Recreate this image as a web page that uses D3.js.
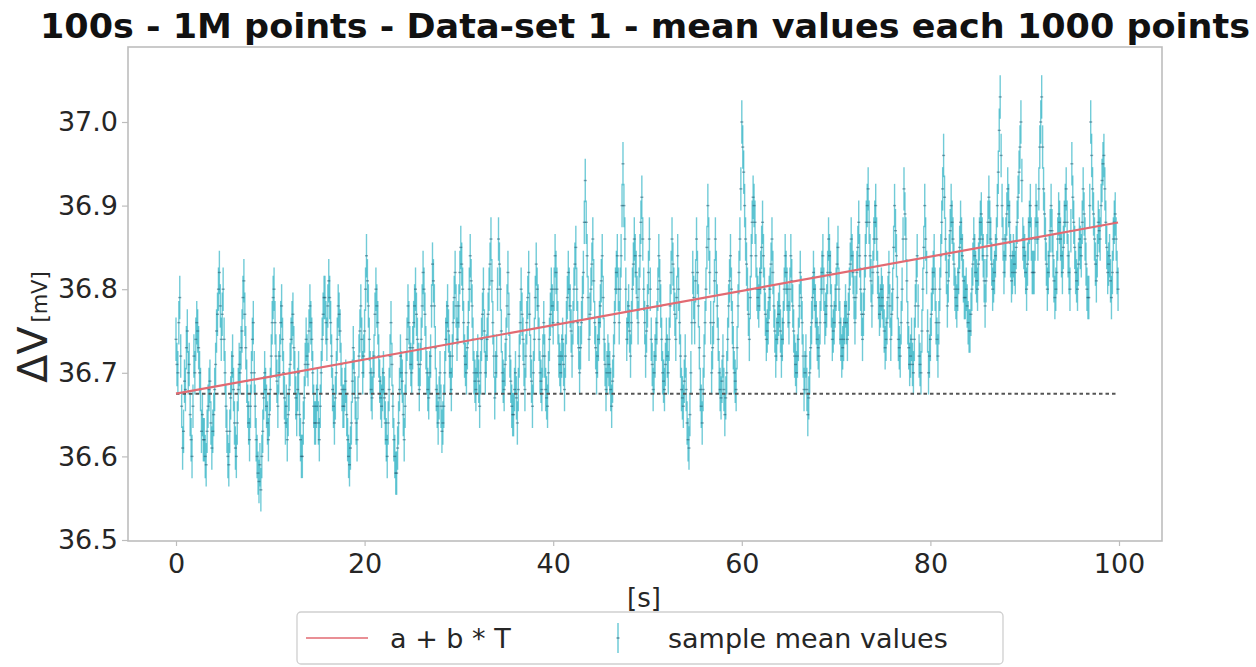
<!DOCTYPE html>
<html>
<head>
<meta charset="utf-8">
<script src="https://cdn.jsdelivr.net/npm/d3@7"></script>
<style>
  body { margin: 0; background: #fff; }
  svg { display: block; }
  text { font-family: "DejaVu Sans", "Noto Sans", sans-serif; fill: #262626; }
</style>
</head>
<body>
<svg id="chart" width="1256" height="667"></svg>
<script>
// ---- data -------------------------------------------------------------
const titleText = "100s - 1M points - Data-set 1 - mean values each 1000 points";
const timeStep = 0.1;          // s between sample means (1000 points each)
const meanError = 0.026;       // mV, half length of each error bar
const fitA = 36.675;           // mV, intercept a
const fitB = 0.00205;          // mV/s, slope b
const xTicks = [0, 20, 40, 60, 80, 100];
const yTicks = [36.5, 36.6, 36.7, 36.8, 36.9, 37.0];
const legendLabels = ["a + b * T", "sample mean values"];

// sample mean values [mV], one row per second
const sampleMeans = [
  36.74, 36.71, 36.70, 36.76, 36.79, 36.72, 36.66, 36.61, 36.63, 36.69,
  36.68, 36.73, 36.75, 36.70, 36.71, 36.65, 36.62, 36.60, 36.66, 36.72,
  36.70, 36.74, 36.76, 36.75, 36.73, 36.70, 36.68, 36.63, 36.65, 36.62,
  36.62, 36.60, 36.59, 36.63, 36.66, 36.68, 36.69, 36.64, 36.61, 36.63,
  36.65, 36.68, 36.71, 36.75, 36.77, 36.80, 36.82, 36.78, 36.74, 36.77,
  36.80, 36.74, 36.70, 36.66, 36.63, 36.60, 36.59, 36.63, 36.67, 36.70,
  36.72, 36.68, 36.64, 36.61, 36.60, 36.64, 36.68, 36.71, 36.70, 36.73,
  36.75, 36.79, 36.81, 36.77, 36.73, 36.69, 36.66, 36.64, 36.62, 36.66,
  36.70, 36.74, 36.76, 36.70, 36.66, 36.62, 36.60, 36.58, 36.57, 36.59,
  36.56, 36.60, 36.63, 36.67, 36.70, 36.68, 36.66, 36.64, 36.62, 36.65,
  36.68, 36.72, 36.76, 36.79, 36.80, 36.76, 36.72, 36.69, 36.66, 36.70,
  36.72, 36.76, 36.78, 36.74, 36.70, 36.67, 36.64, 36.66, 36.62, 36.65,
  36.68, 36.71, 36.74, 36.76, 36.77, 36.73, 36.70, 36.67, 36.65, 36.68,
  36.70, 36.65, 36.62, 36.60, 36.60, 36.64, 36.67, 36.71, 36.74, 36.72,
  36.71, 36.75, 36.78, 36.76, 36.74, 36.70, 36.66, 36.64, 36.64, 36.66,
  36.68, 36.64, 36.62, 36.66, 36.70, 36.74, 36.77, 36.79, 36.79, 36.76,
  36.74, 36.78, 36.81, 36.79, 36.76, 36.72, 36.68, 36.66, 36.64, 36.67,
  36.70, 36.74, 36.78, 36.77, 36.75, 36.71, 36.68, 36.66, 36.66, 36.68,
  36.69, 36.65, 36.62, 36.60, 36.59, 36.61, 36.64, 36.69, 36.73, 36.70,
  36.67, 36.64, 36.62, 36.67, 36.72, 36.75, 36.78, 36.74, 36.70, 36.72,
  36.75, 36.80, 36.84, 36.81, 36.78, 36.74, 36.70, 36.68, 36.67, 36.70,
  36.72, 36.77, 36.80, 36.78, 36.76, 36.72, 36.69, 36.67, 36.66, 36.68,
  36.70, 36.67, 36.64, 36.62, 36.60, 36.64, 36.68, 36.72, 36.76, 36.71,
  36.66, 36.62, 36.60, 36.58, 36.58, 36.61, 36.64, 36.68, 36.72, 36.70,
  36.69, 36.65, 36.62, 36.66, 36.70, 36.74, 36.78, 36.76, 36.73, 36.71,
  36.70, 36.73, 36.76, 36.78, 36.80, 36.77, 36.74, 36.71, 36.68, 36.71,
  36.74, 36.78, 36.82, 36.80, 36.77, 36.73, 36.70, 36.68, 36.67, 36.70,
  36.72, 36.78, 36.83, 36.81, 36.78, 36.73, 36.68, 36.66, 36.64, 36.67,
  36.70, 36.66, 36.63, 36.64, 36.66, 36.70, 36.74, 36.76, 36.78, 36.75,
  36.72, 36.70, 36.68, 36.72, 36.76, 36.79, 36.82, 36.78, 36.74, 36.76,
  36.78, 36.82, 36.85, 36.83, 36.80, 36.76, 36.72, 36.71, 36.70, 36.73,
  36.76, 36.80, 36.84, 36.81, 36.78, 36.74, 36.70, 36.69, 36.68, 36.70,
  36.72, 36.69, 36.66, 36.70, 36.74, 36.77, 36.80, 36.75, 36.70, 36.72,
  36.74, 36.77, 36.80, 36.83, 36.86, 36.81, 36.76, 36.72, 36.67, 36.70,
  36.72, 36.80, 36.86, 36.83, 36.80, 36.75, 36.70, 36.69, 36.68, 36.71,
  36.74, 36.78, 36.82, 36.77, 36.72, 36.69, 36.66, 36.65, 36.65, 36.68,
  36.70, 36.67, 36.64, 36.68, 36.72, 36.76, 36.80, 36.77, 36.74, 36.71,
  36.68, 36.72, 36.76, 36.79, 36.82, 36.77, 36.72, 36.69, 36.66, 36.70,
  36.74, 36.79, 36.83, 36.80, 36.78, 36.74, 36.70, 36.69, 36.68, 36.72,
  36.76, 36.72, 36.68, 36.67, 36.66, 36.70, 36.74, 36.77, 36.80, 36.78,
  36.76, 36.80, 36.84, 36.82, 36.80, 36.76, 36.72, 36.71, 36.70, 36.72,
  36.74, 36.71, 36.68, 36.72, 36.76, 36.79, 36.82, 36.80, 36.78, 36.75,
  36.72, 36.76, 36.80, 36.83, 36.85, 36.80, 36.76, 36.73, 36.70, 36.73,
  36.76, 36.79, 36.82, 36.88, 36.93, 36.88, 36.84, 36.79, 36.74, 36.77,
  36.80, 36.83, 36.86, 36.81, 36.76, 36.73, 36.70, 36.72, 36.74, 36.76,
  36.78, 36.81, 36.84, 36.79, 36.74, 36.71, 36.68, 36.70, 36.72, 36.71,
  36.70, 36.68, 36.66, 36.69, 36.72, 36.76, 36.80, 36.82, 36.84, 36.80,
  36.76, 36.80, 36.84, 36.90, 36.95, 36.90, 36.86, 36.80, 36.74, 36.76,
  36.78, 36.75, 36.72, 36.76, 36.80, 36.83, 36.86, 36.84, 36.82, 36.79,
  36.76, 36.80, 36.84, 36.88, 36.91, 36.86, 36.80, 36.76, 36.72, 36.75,
  36.78, 36.82, 36.86, 36.80, 36.74, 36.71, 36.68, 36.70, 36.72, 36.74,
  36.76, 36.80, 36.84, 36.81, 36.78, 36.74, 36.70, 36.69, 36.68, 36.71,
  36.74, 36.72, 36.70, 36.74, 36.78, 36.82, 36.86, 36.83, 36.80, 36.77,
  36.74, 36.79, 36.84, 36.80, 36.76, 36.72, 36.68, 36.67, 36.66, 36.69,
  36.72, 36.68, 36.64, 36.62, 36.61, 36.65, 36.70, 36.76, 36.82, 36.79,
  36.76, 36.81, 36.86, 36.82, 36.78, 36.73, 36.68, 36.66, 36.64, 36.68,
  36.72, 36.76, 36.80, 36.85, 36.90, 36.86, 36.82, 36.76, 36.70, 36.73,
  36.76, 36.81, 36.86, 36.82, 36.78, 36.74, 36.70, 36.68, 36.67, 36.69,
  36.72, 36.68, 36.65, 36.67, 36.70, 36.74, 36.78, 36.81, 36.84, 36.80,
  36.76, 36.73, 36.70, 36.69, 36.68, 36.73, 36.78, 36.82, 36.86, 36.92,
  37.00, 36.97, 36.94, 36.90, 36.86, 36.83, 36.80, 36.77, 36.74, 36.79,
  36.84, 36.88, 36.91, 36.90, 36.88, 36.84, 36.80, 36.79, 36.78, 36.80,
  36.82, 36.85, 36.88, 36.84, 36.80, 36.77, 36.74, 36.75, 36.76, 36.79,
  36.80, 36.83, 36.86, 36.82, 36.78, 36.75, 36.72, 36.74, 36.76, 36.77,
  36.78, 36.75, 36.72, 36.74, 36.76, 36.80, 36.84, 36.82, 36.80, 36.78,
  36.76, 36.80, 36.84, 36.81, 36.78, 36.75, 36.72, 36.71, 36.70, 36.72,
  36.74, 36.78, 36.82, 36.79, 36.76, 36.72, 36.68, 36.70, 36.72, 36.68,
  36.65, 36.67, 36.70, 36.73, 36.76, 36.79, 36.82, 36.80, 36.78, 36.76,
  36.74, 36.73, 36.72, 36.76, 36.80, 36.82, 36.84, 36.80, 36.76, 36.77,
  36.78, 36.82, 36.86, 36.84, 36.82, 36.78, 36.74, 36.75, 36.76, 36.78,
  36.80, 36.83, 36.85, 36.80, 36.76, 36.74, 36.72, 36.73, 36.74, 36.76,
  36.78, 36.76, 36.74, 36.77, 36.80, 36.83, 36.86, 36.84, 36.82, 36.79,
  36.76, 36.79, 36.82, 36.85, 36.88, 36.84, 36.80, 36.77, 36.74, 36.77,
  36.80, 36.84, 36.88, 36.90, 36.92, 36.88, 36.84, 36.81, 36.78, 36.82,
  36.86, 36.88, 36.90, 36.86, 36.82, 36.79, 36.77, 36.78, 36.80, 36.79,
  36.78, 36.75, 36.73, 36.74, 36.76, 36.79, 36.82, 36.78, 36.74, 36.77,
  36.80, 36.85, 36.90, 36.87, 36.84, 36.79, 36.74, 36.73, 36.72, 36.76,
  36.80, 36.86, 36.92, 36.89, 36.86, 36.81, 36.76, 36.73, 36.71, 36.72,
  36.74, 36.71, 36.70, 36.74, 36.78, 36.81, 36.84, 36.78, 36.72, 36.71,
  36.70, 36.75, 36.80, 36.85, 36.90, 36.86, 36.82, 36.75, 36.70, 36.72,
  36.74, 36.77, 36.80, 36.82, 36.84, 36.80, 36.76, 36.74, 36.72, 36.76,
  36.80, 36.84, 36.88, 36.92, 36.96, 36.91, 36.86, 36.82, 36.78, 36.81,
  36.84, 36.87, 36.90, 36.88, 36.86, 36.83, 36.80, 36.79, 36.78, 36.80,
  36.82, 36.85, 36.88, 36.86, 36.84, 36.81, 36.79, 36.79, 36.80, 36.78,
  36.76, 36.75, 36.75, 36.77, 36.80, 36.83, 36.86, 36.84, 36.82, 36.81,
  36.80, 36.83, 36.86, 36.88, 36.89, 36.86, 36.84, 36.81, 36.78, 36.81,
  36.84, 36.88, 36.91, 36.88, 36.86, 36.83, 36.80, 36.81, 36.82, 36.84,
  36.86, 36.90, 36.94, 36.99, 37.03, 36.96, 36.90, 36.86, 36.82, 36.84,
  36.86, 36.89, 36.92, 36.90, 36.88, 36.84, 36.81, 36.82, 36.84, 36.83,
  36.82, 36.85, 36.88, 36.91, 36.94, 36.97, 37.00, 36.93, 36.86, 36.85,
  36.84, 36.82, 36.80, 36.83, 36.86, 36.88, 36.90, 36.86, 36.82, 36.82,
  36.82, 36.86, 36.90, 36.88, 36.86, 36.92, 36.97, 37.00, 37.03, 36.97,
  36.92, 36.89, 36.86, 36.83, 36.80, 36.82, 36.84, 36.87, 36.90, 36.87,
  36.84, 36.81, 36.79, 36.80, 36.82, 36.86, 36.89, 36.88, 36.86, 36.84,
  36.82, 36.85, 36.88, 36.90, 36.92, 36.88, 36.84, 36.82, 36.80, 36.87,
  36.95, 36.91, 36.88, 36.85, 36.82, 36.81, 36.80, 36.83, 36.86, 36.85,
  36.84, 36.88, 36.92, 36.89, 36.86, 36.83, 36.80, 36.79, 36.79, 36.90,
  37.00, 36.96, 36.92, 36.89, 36.86, 36.83, 36.81, 36.84, 36.88, 36.87,
  36.86, 36.90, 36.93, 36.95, 36.96, 36.92, 36.88, 36.85, 36.82, 36.83,
  36.84, 36.81, 36.79, 36.82, 36.86, 36.88, 36.89, 36.86, 36.82, 36.80
];

// ---- layout -----------------------------------------------------------
const plot = { left: 128, right: 1162, top: 47, bottom: 541 };
const svg = d3.select("#chart");

const x = d3.scaleLinear().domain([0, 100]).range([176, 1119]);
const y = d3.scaleLinear().domain([36.5, 37.0]).range([540, 122]);

const points = sampleMeans.map((v, i) => ({ t: i * timeStep, v }));
const tEnd = d3.max(points, d => d.t);

// title
svg.append("text")
  .attr("x", (plot.left + plot.right) / 2)
  .attr("y", 38)
  .attr("text-anchor", "middle")
  .attr("font-size", 33)
  .attr("font-weight", "bold")
  .attr("textLength", 1210)
  .attr("lengthAdjust", "spacingAndGlyphs")
  .style("fill", "#111")
  .text(titleText);

// plot background
svg.append("rect")
  .attr("x", plot.left).attr("y", plot.top)
  .attr("width", plot.right - plot.left).attr("height", plot.bottom - plot.top)
  .attr("fill", "#fff");

svg.append("clipPath").attr("id", "plotClip")
  .append("rect")
  .attr("x", plot.left).attr("y", plot.top)
  .attr("width", plot.right - plot.left).attr("height", plot.bottom - plot.top);

const marks = svg.append("g").attr("clip-path", "url(#plotClip)");

// error bars of the sample means
marks.append("g")
  .selectAll("line")
  .data(points)
  .join("line")
  .attr("x1", d => x(d.t)).attr("x2", d => x(d.t))
  .attr("y1", d => y(d.v - meanError)).attr("y2", d => y(d.v + meanError))
  .attr("stroke", "#12a9bd")
  .attr("stroke-width", 1.4)
  .attr("stroke-opacity", 0.6);

// mean markers
marks.append("g")
  .selectAll("line")
  .data(points)
  .join("line")
  .attr("x1", d => x(d.t) - 1.5).attr("x2", d => x(d.t) + 1.5)
  .attr("y1", d => y(d.v)).attr("y2", d => y(d.v))
  .attr("stroke", "#275c72")
  .attr("stroke-width", 1.4)
  .attr("stroke-opacity", 0.55);

// constant level a
marks.append("line")
  .attr("x1", x(0)).attr("x2", x(tEnd))
  .attr("y1", y(fitA)).attr("y2", y(fitA))
  .attr("stroke", "#555")
  .attr("stroke-width", 2)
  .attr("stroke-dasharray", "3.5,3");

// linear fit a + b*T
const fitLine = d3.line().x(d => x(d)).y(d => y(fitA + fitB * d));
marks.append("path")
  .attr("d", fitLine([0, tEnd]))
  .attr("fill", "none")
  .attr("stroke", "#e26a72")
  .attr("stroke-width", 2.2);

// frame
svg.append("rect")
  .attr("x", plot.left).attr("y", plot.top)
  .attr("width", plot.right - plot.left).attr("height", plot.bottom - plot.top)
  .attr("fill", "none")
  .attr("stroke", "#bdbdbd")
  .attr("stroke-width", 1.6);

// axes
const xAxis = d3.axisBottom(x).tickValues(xTicks).tickSize(5).tickPadding(8).tickFormat(d3.format("d"));
const gx = svg.append("g").attr("transform", `translate(0,${plot.bottom})`).call(xAxis);
gx.select(".domain").remove();
gx.selectAll(".tick line").attr("stroke", "#bdbdbd").attr("stroke-width", 1.2);
gx.selectAll(".tick text").attr("font-size", 27).attr("font-family", "DejaVu Sans").style("fill", "#262626");

const yAxis = d3.axisLeft(y).tickValues(yTicks).tickSize(6).tickPadding(4).tickFormat(d3.format(".1f"));
const gy = svg.append("g").attr("transform", `translate(${plot.left},0)`).call(yAxis);
gy.select(".domain").remove();
gy.selectAll(".tick line").attr("stroke", "#bdbdbd").attr("stroke-width", 1.2);
gy.selectAll(".tick text").attr("font-size", 27).attr("font-family", "DejaVu Sans").style("fill", "#262626");

// axis labels
svg.append("text")
  .attr("x", (plot.left + plot.right) / 2 - 1)
  .attr("y", 607)
  .attr("text-anchor", "middle")
  .attr("font-size", 26)
  .text("[s]");

const yLabel = svg.append("text")
  .attr("transform", "translate(47,327) rotate(-90)")
  .attr("text-anchor", "middle");
yLabel.append("tspan").attr("font-size", 41).text("ΔV");
yLabel.append("tspan").attr("font-size", 21).attr("dx", 4).text("[mV]");

// legend
const legend = svg.append("g");
legend.append("rect")
  .attr("x", 297).attr("y", 612).attr("width", 706).attr("height", 52)
  .attr("rx", 4)
  .attr("fill", "#fff")
  .attr("stroke", "#cfcfcf")
  .attr("stroke-width", 1.3);
legend.append("line")
  .attr("x1", 306).attr("x2", 368).attr("y1", 638).attr("y2", 638)
  .attr("stroke", "#e26a72").attr("stroke-width", 2.2).attr("stroke-opacity", 0.75);
legend.append("text")
  .attr("x", 390).attr("y", 648)
  .attr("font-size", 27)
  .text(legendLabels[0]);
legend.append("line")
  .attr("x1", 618).attr("x2", 618).attr("y1", 623).attr("y2", 653)
  .attr("stroke", "#12a9bd").attr("stroke-width", 1.3).attr("stroke-opacity", 0.7);
legend.append("line")
  .attr("x1", 616.5).attr("x2", 619.5).attr("y1", 638).attr("y2", 638)
  .attr("stroke", "#275c72").attr("stroke-width", 1.5).attr("stroke-opacity", 0.6);
legend.append("text")
  .attr("x", 668).attr("y", 648)
  .attr("font-size", 27)
  .text(legendLabels[1]);
</script>
</body>
</html>
